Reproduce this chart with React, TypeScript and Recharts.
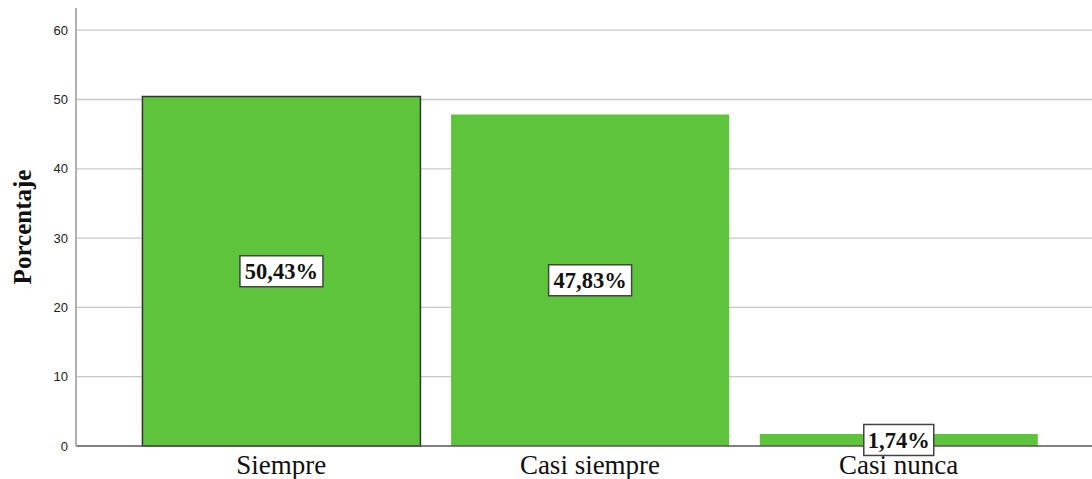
import React from "react";
import {
  BarChart,
  Bar,
  XAxis,
  YAxis,
  CartesianGrid,
  LabelList,
  Cell,
} from "recharts";

const categories = ["Siempre", "Casi siempre", "Casi nunca"];
const percentages = [50.43, 47.83, 1.74];
const yTicks = [0, 10, 20, 30, 40, 50, 60];
const yMax = 63.2;

const data = categories.map((name, i) => ({ name, value: percentages[i] }));

const SERIF = '"Liberation Serif", "Times New Roman", serif';

// white box with the value in the middle of the bar
const BoxLabel = (props: any) => {
  const { x, y, width, height, value } = props;
  const text = value.toFixed(2).replace(".", ",") + "%";
  const cx = x + width / 2;
  const cy = y + height / 2;
  const w = text.length * 13 + 5;
  const h = 31;
  return (
    <g>
      <rect
        x={cx - w / 2}
        y={cy - h / 2}
        width={w}
        height={h}
        fill="#fff"
        stroke="#444"
        strokeWidth={1.5}
      />
      <text
        x={cx}
        y={cy + 8}
        textAnchor="middle"
        fontFamily={SERIF}
        fontWeight="bold"
        fontSize={22.5}
        fill="#111"
      >
        {text}
      </text>
    </g>
  );
};

export default function App() {
  return (
    <div style={{ position: "absolute", left: 0, top: 0, background: "#fff" }}>
      <BarChart
        width={1092}
        height={479}
        data={data}
        margin={{ top: 8, right: 0, left: 0, bottom: 0 }}
        barCategoryGap="5%"
      >
        <CartesianGrid
          vertical={false}
          stroke="#c8c8c8"
          strokeWidth={1.3}
          horizontalCoordinatesGenerator={({ offset }: any) =>
            yTicks
              .slice(1)
              .map((t) => offset.top + offset.height * (1 - t / yMax))
          }
        />
        <XAxis
          dataKey="name"
          height={33}
          padding={{ left: 51, right: 39 }}
          tickLine={false}
          axisLine={{ stroke: "#555", strokeWidth: 1.3 }}
          tick={{ fontFamily: SERIF, fontSize: 27, fill: "#111" }}
          tickMargin={0}
          dy={3}
        />
        <YAxis
          width={76}
          domain={[0, yMax]}
          ticks={yTicks}
          tickLine={false}
          axisLine={{ stroke: "#b0b0b0", strokeWidth: 2 }}
          tick={{ fontFamily: "Arial, 'Liberation Sans', sans-serif", fontSize: 13, fill: "#222" }}
          label={{
            value: "Porcentaje",
            angle: -90,
            position: "insideLeft",
            offset: 22,
            style: {
              fontFamily: SERIF,
              fontWeight: "bold",
              fontSize: 25,
              fill: "#111",
              textAnchor: "middle",
            },
          }}
        />
        <Bar dataKey="value" fill="#5ec43b" isAnimationActive={false}>
          {data.map((d, i) => (
            <Cell
              key={d.name}
              fill="#5ec43b"
              stroke={i === 0 ? "#333" : "none"}
              strokeWidth={i === 0 ? 1.5 : 0}
            />
          ))}
          <LabelList dataKey="value" content={BoxLabel} />
        </Bar>
      </BarChart>
    </div>
  );
}
